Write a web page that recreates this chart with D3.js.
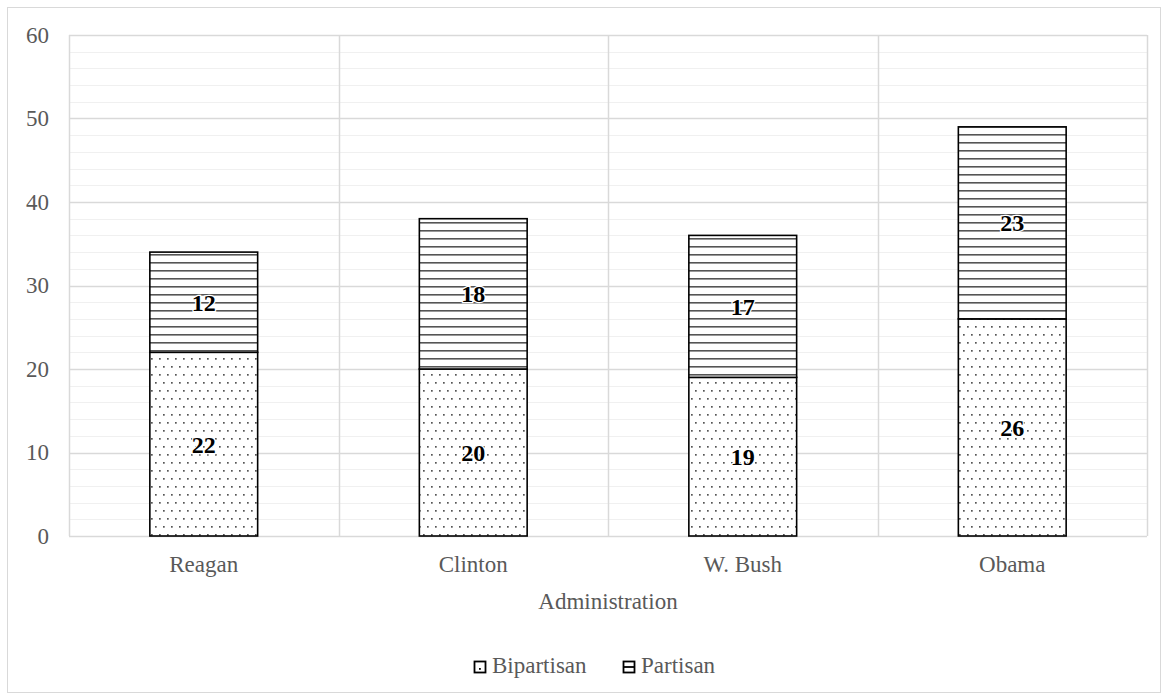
<!DOCTYPE html>
<html>
<head>
<meta charset="utf-8">
<script src="https://cdn.jsdelivr.net/npm/d3@7"></script>
<style>
  html, body { margin: 0; padding: 0; background: #fff; }
  svg { display: block; }
  svg text { font-family: 'Liberation Serif', 'Times New Roman', Times, 'DejaVu Serif', serif !important; }
</style>
</head>
<body>
<svg id="chart" width="1168" height="700"></svg>
<script>
// Data
const administrations = ["Reagan", "Clinton", "W. Bush", "Obama"];
const bipartisan = [22, 20, 19, 26];
const partisan = [12, 18, 17, 23];
const seriesNames = ["Bipartisan", "Partisan"];
const yTicks = [0, 10, 20, 30, 40, 50, 60];
const xTitle = "Administration";

const svg = d3.select("#chart");
const W = 1168, H = 700;
const margin = { left: 69, right: 21, top: 35, bottom: 164 };
const plotW = W - margin.left - margin.right;
const plotH = H - margin.top - margin.bottom;
const textGray = "#595959";
const fontSize = 23;

// Outer frame
svg.append("rect")
  .attr("x", 7.5).attr("y", 7.5)
  .attr("width", 1153).attr("height", 685)
  .attr("fill", "#fff").attr("stroke", "#d9d9d9").attr("stroke-width", 1);

// Fill patterns
const defs = svg.append("defs");
const dots = defs.append("pattern")
  .attr("id", "dots").attr("patternUnits", "userSpaceOnUse")
  .attr("width", 8).attr("height", 16);
dots.append("rect").attr("width", 8).attr("height", 16).attr("fill", "#fff");
dots.append("rect").attr("x", 2).attr("y", 3).attr("width", 1.7).attr("height", 1.7).attr("fill", "#555");
dots.append("rect").attr("x", 6).attr("y", 11).attr("width", 1.7).attr("height", 1.7).attr("fill", "#555");

const hlines = defs.append("pattern")
  .attr("id", "hlines").attr("patternUnits", "userSpaceOnUse")
  .attr("width", 8).attr("height", 8);
hlines.append("rect").attr("width", 8).attr("height", 8).attr("fill", "#fff");
hlines.append("rect").attr("x", 0).attr("y", 3).attr("width", 8).attr("height", 1.6).attr("fill", "#555");

const fills = ["url(#dots)", "url(#hlines)"];

const g = svg.append("g").attr("transform", `translate(${margin.left},${margin.top})`);

const x = d3.scaleBand().domain(administrations).range([0, plotW]).paddingInner(0).paddingOuter(0);
const y = d3.scaleLinear().domain([0, 60]).range([plotH, 0]);

// Minor gridlines
g.append("g").selectAll("line")
  .data(d3.range(0, 61, 2).filter(v => v % 10 !== 0))
  .join("line")
  .attr("x1", 0).attr("x2", plotW)
  .attr("y1", d => Math.round(y(d)) + 0.5).attr("y2", d => Math.round(y(d)) + 0.5)
  .attr("stroke", "#f0f0f0").attr("stroke-width", 1);

// Major gridlines
g.append("g").selectAll("line")
  .data(yTicks)
  .join("line")
  .attr("x1", 0).attr("x2", plotW)
  .attr("y1", d => Math.round(y(d)) + 0.5).attr("y2", d => Math.round(y(d)) + 0.5)
  .attr("stroke", "#d9d9d9").attr("stroke-width", 1.5);

// Vertical category gridlines
const vx = administrations.map(a => x(a)).concat([plotW]);
g.append("g").selectAll("line")
  .data(vx)
  .join("line")
  .attr("x1", d => Math.round(d) + 0.5).attr("x2", d => Math.round(d) + 0.5)
  .attr("y1", 0).attr("y2", plotH)
  .attr("stroke", "#d9d9d9").attr("stroke-width", 1.5);

// Y axis labels
const yAxis = d3.axisLeft(y).tickValues(yTicks).tickSize(0).tickPadding(20);
g.append("g").call(yAxis)
  .call(s => s.select(".domain").remove())
  .selectAll("text")
  .attr("font-size", fontSize).attr("fill", textGray);

// X axis labels
const xAxis = d3.axisBottom(x).tickSize(0).tickPadding(20);
g.append("g").attr("transform", `translate(0,${plotH})`).call(xAxis)
  .call(s => s.select(".domain").remove())
  .selectAll("text")
  .attr("font-size", fontSize).attr("fill", textGray);

// Stacked bars
const rows = administrations.map((a, i) => ({ a, Bipartisan: bipartisan[i], Partisan: partisan[i] }));
const stacked = d3.stack().keys(seriesNames)(rows);
const barW = x.bandwidth() * 0.4;

stacked.forEach((layer, li) => {
  const lg = g.append("g");
  lg.selectAll("rect")
    .data(layer)
    .join("rect")
    .attr("x", d => x(d.data.a) + (x.bandwidth() - barW) / 2)
    .attr("y", d => y(d[1]))
    .attr("width", barW)
    .attr("height", d => y(d[0]) - y(d[1]))
    .attr("fill", fills[li])
    .attr("stroke", "#000").attr("stroke-width", 1.6);
  lg.selectAll("text")
    .data(layer)
    .join("text")
    .attr("x", d => x(d.data.a) + x.bandwidth() / 2)
    .attr("y", d => y((d[0] + d[1]) / 2))
    .attr("dy", "0.35em")
    .attr("text-anchor", "middle")
    .attr("font-weight", "bold")
    .attr("font-size", 24)
    .attr("fill", "#000")
    .attr("stroke", "#fff").attr("stroke-width", 2.5).attr("paint-order", "stroke")
    .text(d => d[1] - d[0]);
});

// X axis title
svg.append("text")
  .attr("x", margin.left + plotW / 2).attr("y", 609)
  .attr("text-anchor", "middle")
  .attr("font-size", fontSize).attr("fill", textGray)
  .text(xTitle);

// Legend
const legendItems = [
  { name: seriesNames[0], x: 474 },
  { name: seriesNames[1], x: 623 }
];
const lgd = svg.append("g");
legendItems.forEach((it, i) => {
  const item = lgd.append("g").attr("transform", `translate(${it.x},661)`);
  item.append("rect").attr("x", 0.5).attr("y", 0.5).attr("width", 11).attr("height", 11)
    .attr("fill", "#fff").attr("stroke", "#000").attr("stroke-width", 1.8);
  if (i === 0) {
    item.append("rect").attr("x", 5).attr("y", 7).attr("width", 1.8).attr("height", 1.8).attr("fill", "#000");
  } else {
    item.append("line").attr("x1", 0.5).attr("x2", 11.5).attr("y1", 6).attr("y2", 6)
      .attr("stroke", "#000").attr("stroke-width", 1.8);
  }
  item.append("text").attr("x", 18).attr("y", 12)
    .attr("font-size", fontSize).attr("fill", textGray)
    .text(it.name);
});
</script>
</body>
</html>
